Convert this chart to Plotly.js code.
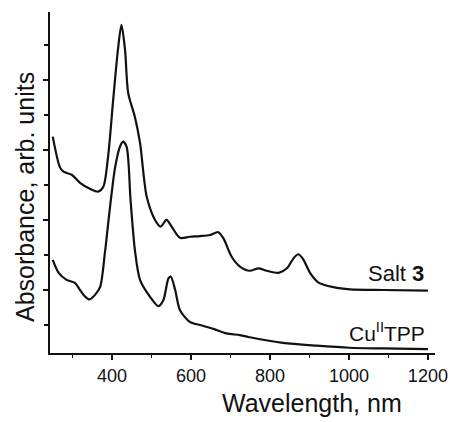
<!DOCTYPE html>
<html>
<head>
<meta charset="utf-8">
<script src="https://cdn.plot.ly/plotly-3.0.1.min.js"></script>
<style>html,body{margin:0;padding:0;background:#fff;}#chart{width:454px;height:422px;}</style>
</head>
<body>
<div id="chart"></div>
<script>
// Salt 3 spectrum (wavelength nm, absorbance arb. units, offset)
const saltWl = [250,268,277,298,319,344,365,378,390,403,415,424,433,441,458,471,488,509,523,538,551,572,597,623,648,669,682,703,724,749,771,792,822,843,860,872,885,902,923,961,1003,1087,1200];
const saltAbs = [6.18,5.31,5.18,5.09,4.86,4.69,4.61,4.75,5.60,7.23,8.66,9.37,8.66,7.43,6.74,6.00,4.46,3.80,3.61,3.80,3.61,3.29,3.32,3.34,3.37,3.45,3.28,2.75,2.47,2.35,2.42,2.35,2.29,2.42,2.71,2.82,2.66,2.28,2.01,1.88,1.82,1.80,1.78];

// Cu(II)TPP spectrum
const cuWl = [250,265,285,306,319,332,343,357,370,382,395,408,420,428,437,447,458,471,496,517,530,543,549,560,572,597,623,657,690,724,749,833,918,1002,1087,1200];
const cuAbs = [2.66,2.29,2.09,2.00,1.80,1.61,1.53,1.66,1.89,2.86,4.17,5.31,5.89,6.04,5.89,4.37,2.94,2.09,1.61,1.34,1.51,2.13,2.18,1.80,1.23,0.89,0.80,0.69,0.56,0.51,0.45,0.29,0.21,0.15,0.13,0.11];

const xTicks = [400,600,800,1000,1200];
const xTickText = ['400','600','800','1000','1200'];
const yTicks = [1.8,3.8,5.8,7.8];
const labels = ['Salt <b>3</b>', 'Cu<sup>II</sup>TPP'];

const lineStyle = {color:'#111', width:2.2, shape:'spline', smoothing:0.8};

const traces = [
  {x: saltWl, y: saltAbs, mode:'lines', line: lineStyle, hoverinfo:'skip'},
  {x: cuWl, y: cuAbs, mode:'lines', line: lineStyle, hoverinfo:'skip'}
];

const font = 'Liberation Sans, Arial, sans-serif';

const layout = {
  width:454, height:422,
  margin:{l:50, r:19, t:12, b:69},
  paper_bgcolor:'#fff', plot_bgcolor:'#fff',
  showlegend:false,
  font:{family:font, color:'#111'},
  xaxis:{
    range:[243,1218], showgrid:false, zeroline:false,
    showline:true, linecolor:'#111', linewidth:2,
    ticks:'outside', ticklen:5, tickwidth:1.5, tickcolor:'#111',
    tickvals:xTicks, ticktext:xTickText,
    tickfont:{family:font, size:18, color:'#111'},
    minor:{dtick:100, tick0:300, ticks:'outside', ticklen:3, tickwidth:1.2, tickcolor:'#111'}
  },
  yaxis:{
    range:[0,9.74], showgrid:false, zeroline:false,
    showline:true, linecolor:'#111', linewidth:2,
    ticks:'outside', ticklen:5, tickwidth:1.5, tickcolor:'#111',
    tickvals:yTicks, showticklabels:false,
    minor:{dtick:1, tick0:0.8, ticks:'outside', ticklen:4, tickwidth:1.2, tickcolor:'#111'}
  },
  annotations:[
    {xref:'paper', yref:'paper', x:(312-50)/385, y:-(403-353)/341, text:'Wavelength, nm', showarrow:false,
     xanchor:'center', yanchor:'middle', font:{family:font, size:25, color:'#111'}},
    {xref:'paper', yref:'paper', x:-(50-25)/385, y:(353-197)/341, text:'Absorbance, arb. units', showarrow:false,
     xanchor:'center', yanchor:'middle', textangle:-90, font:{family:font, size:25, color:'#111'}},
    {xref:'x', yref:'y', x:1196, y:2.28, text:labels[0], showarrow:false,
     xanchor:'right', yanchor:'middle', font:{family:font, size:22, color:'#111'}},
    {xref:'x', yref:'y', x:1197, y:0.6, text:labels[1], showarrow:false,
     xanchor:'right', yanchor:'middle', font:{family:font, size:21, color:'#111'}}
  ]
};

Plotly.newPlot('chart', traces, layout, {staticPlot:true, displayModeBar:false});
</script>
</body>
</html>
